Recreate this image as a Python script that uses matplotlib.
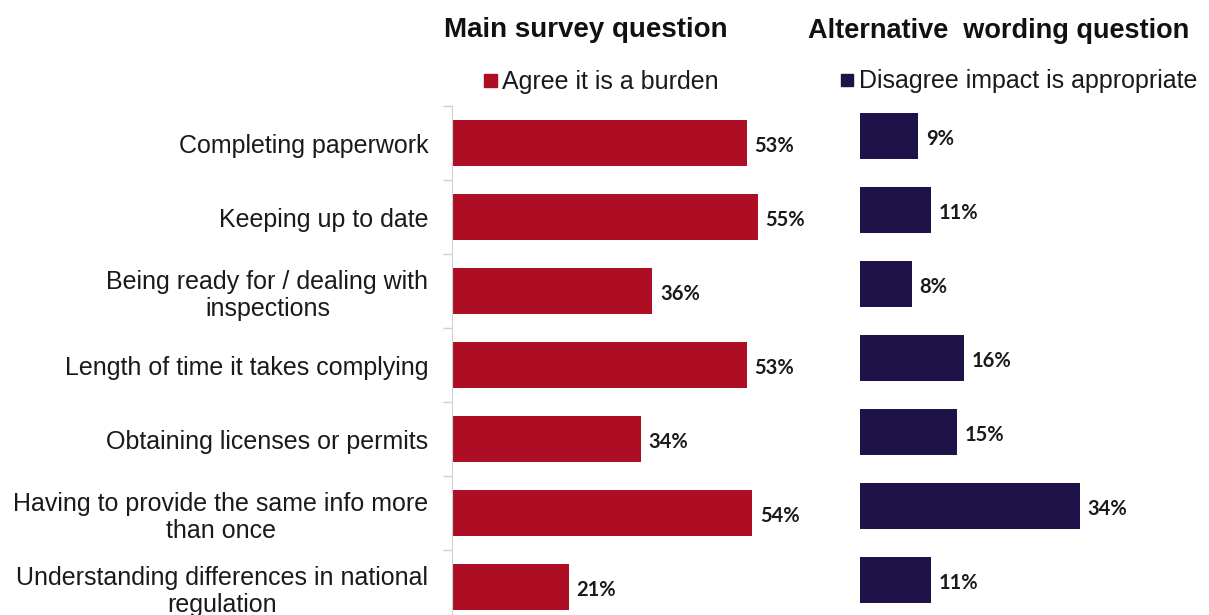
import matplotlib.pyplot as plt
import numpy as np

categories = [
    "Completing paperwork",
    "Keeping up to date",
    "Being ready for / dealing with\ninspections",
    "Length of time it takes complying",
    "Obtaining licenses or permits",
    "Having to provide the same info more\nthan once",
    "Understanding differences in national\nregulation",
]
burden = [53, 55, 36, 53, 34, 54, 21]
disagree = [9, 11, 8, 16, 15, 34, 11]

red = "#AE0E23"
navy = "#1F1248"
W, H = 1209, 615

plt.rcParams['font.family'] = ['Liberation Sans', 'DejaVu Sans']
fig = plt.figure(figsize=(W / 100, H / 100), dpi=100)


def px_axes(left, top, width, height):
    return fig.add_axes([left / W, (H - top - height) / H, width / W, height / H])


y = np.arange(len(categories))

# left panel: main survey question
ax1 = px_axes(452, 106, 340, 518)
ax1.barh(y, burden, height=0.62, color=red)
ax1.set_xlim(0, 340 / 5.56)
ax1.set_ylim(6.5, -0.5)
ax1.set_yticks(y)
ax1.set_yticklabels(categories, fontsize=18, color="#1a1a1a", linespacing=1.18)
for t in ax1.get_yticklabels():
    t.set_multialignment('center')
ax1.tick_params(axis='y', which='major', length=0, pad=17)
ax1.set_yticks(np.arange(-0.5, 7, 1), minor=True)
ax1.tick_params(axis='y', which='minor', length=6.5, color="#d0d0d0", width=1)
ax1.set_xticks([])
for s in ['top', 'right', 'bottom']:
    ax1.spines[s].set_visible(False)
ax1.spines['left'].set_color("#d0d0d0")
for yi, v in zip(y, burden):
    ax1.text(v + 1.4, yi + 0.04, f"{v}%", va='center', ha='left',
             fontsize=14.5, fontweight='bold', family=['Lato', 'DejaVu Sans'],
             color="#1a1a1a")

# right panel: alternative wording
ax2 = px_axes(860, 99, 340, 518)
ax2.barh(y, disagree, height=0.61, color=navy)
ax2.set_xlim(0, 340 / 6.47)
ax2.set_ylim(6.5, -0.5)
ax2.axis('off')
for yi, v in zip(y, disagree):
    ax2.text(v + 1.2, yi + 0.04, f"{v}%", va='center', ha='left',
             fontsize=14.5, fontweight='bold', family=['Lato', 'DejaVu Sans'],
             color="#1a1a1a")

# titles and legends
fig.text(586 / W, 1 - 30 / H, "Main survey question", ha='center', va='center',
         fontsize=20, fontweight='bold', color="#111111")
fig.text(999 / W, 1 - 31 / H, "Alternative  wording question", ha='center', va='center',
         fontsize=19.5, fontweight='bold', color="#111111")

fig.patches.append(plt.Rectangle((484 / W, 1 - 87 / H), 13 / W, 13 / H,
                                 transform=fig.transFigure, color=red))
fig.text(502 / W, 1 - 82 / H, "Agree it is a burden", ha='left', va='center',
         fontsize=18, color="#1a1a1a")
fig.patches.append(plt.Rectangle((841 / W, 1 - 86 / H), 12 / W, 12 / H,
                                 transform=fig.transFigure, color=navy))
fig.text(859 / W, 1 - 81 / H, "Disagree impact is appropriate", ha='left', va='center',
         fontsize=18, color="#1a1a1a")

fig.savefig("out.png", dpi=100)
